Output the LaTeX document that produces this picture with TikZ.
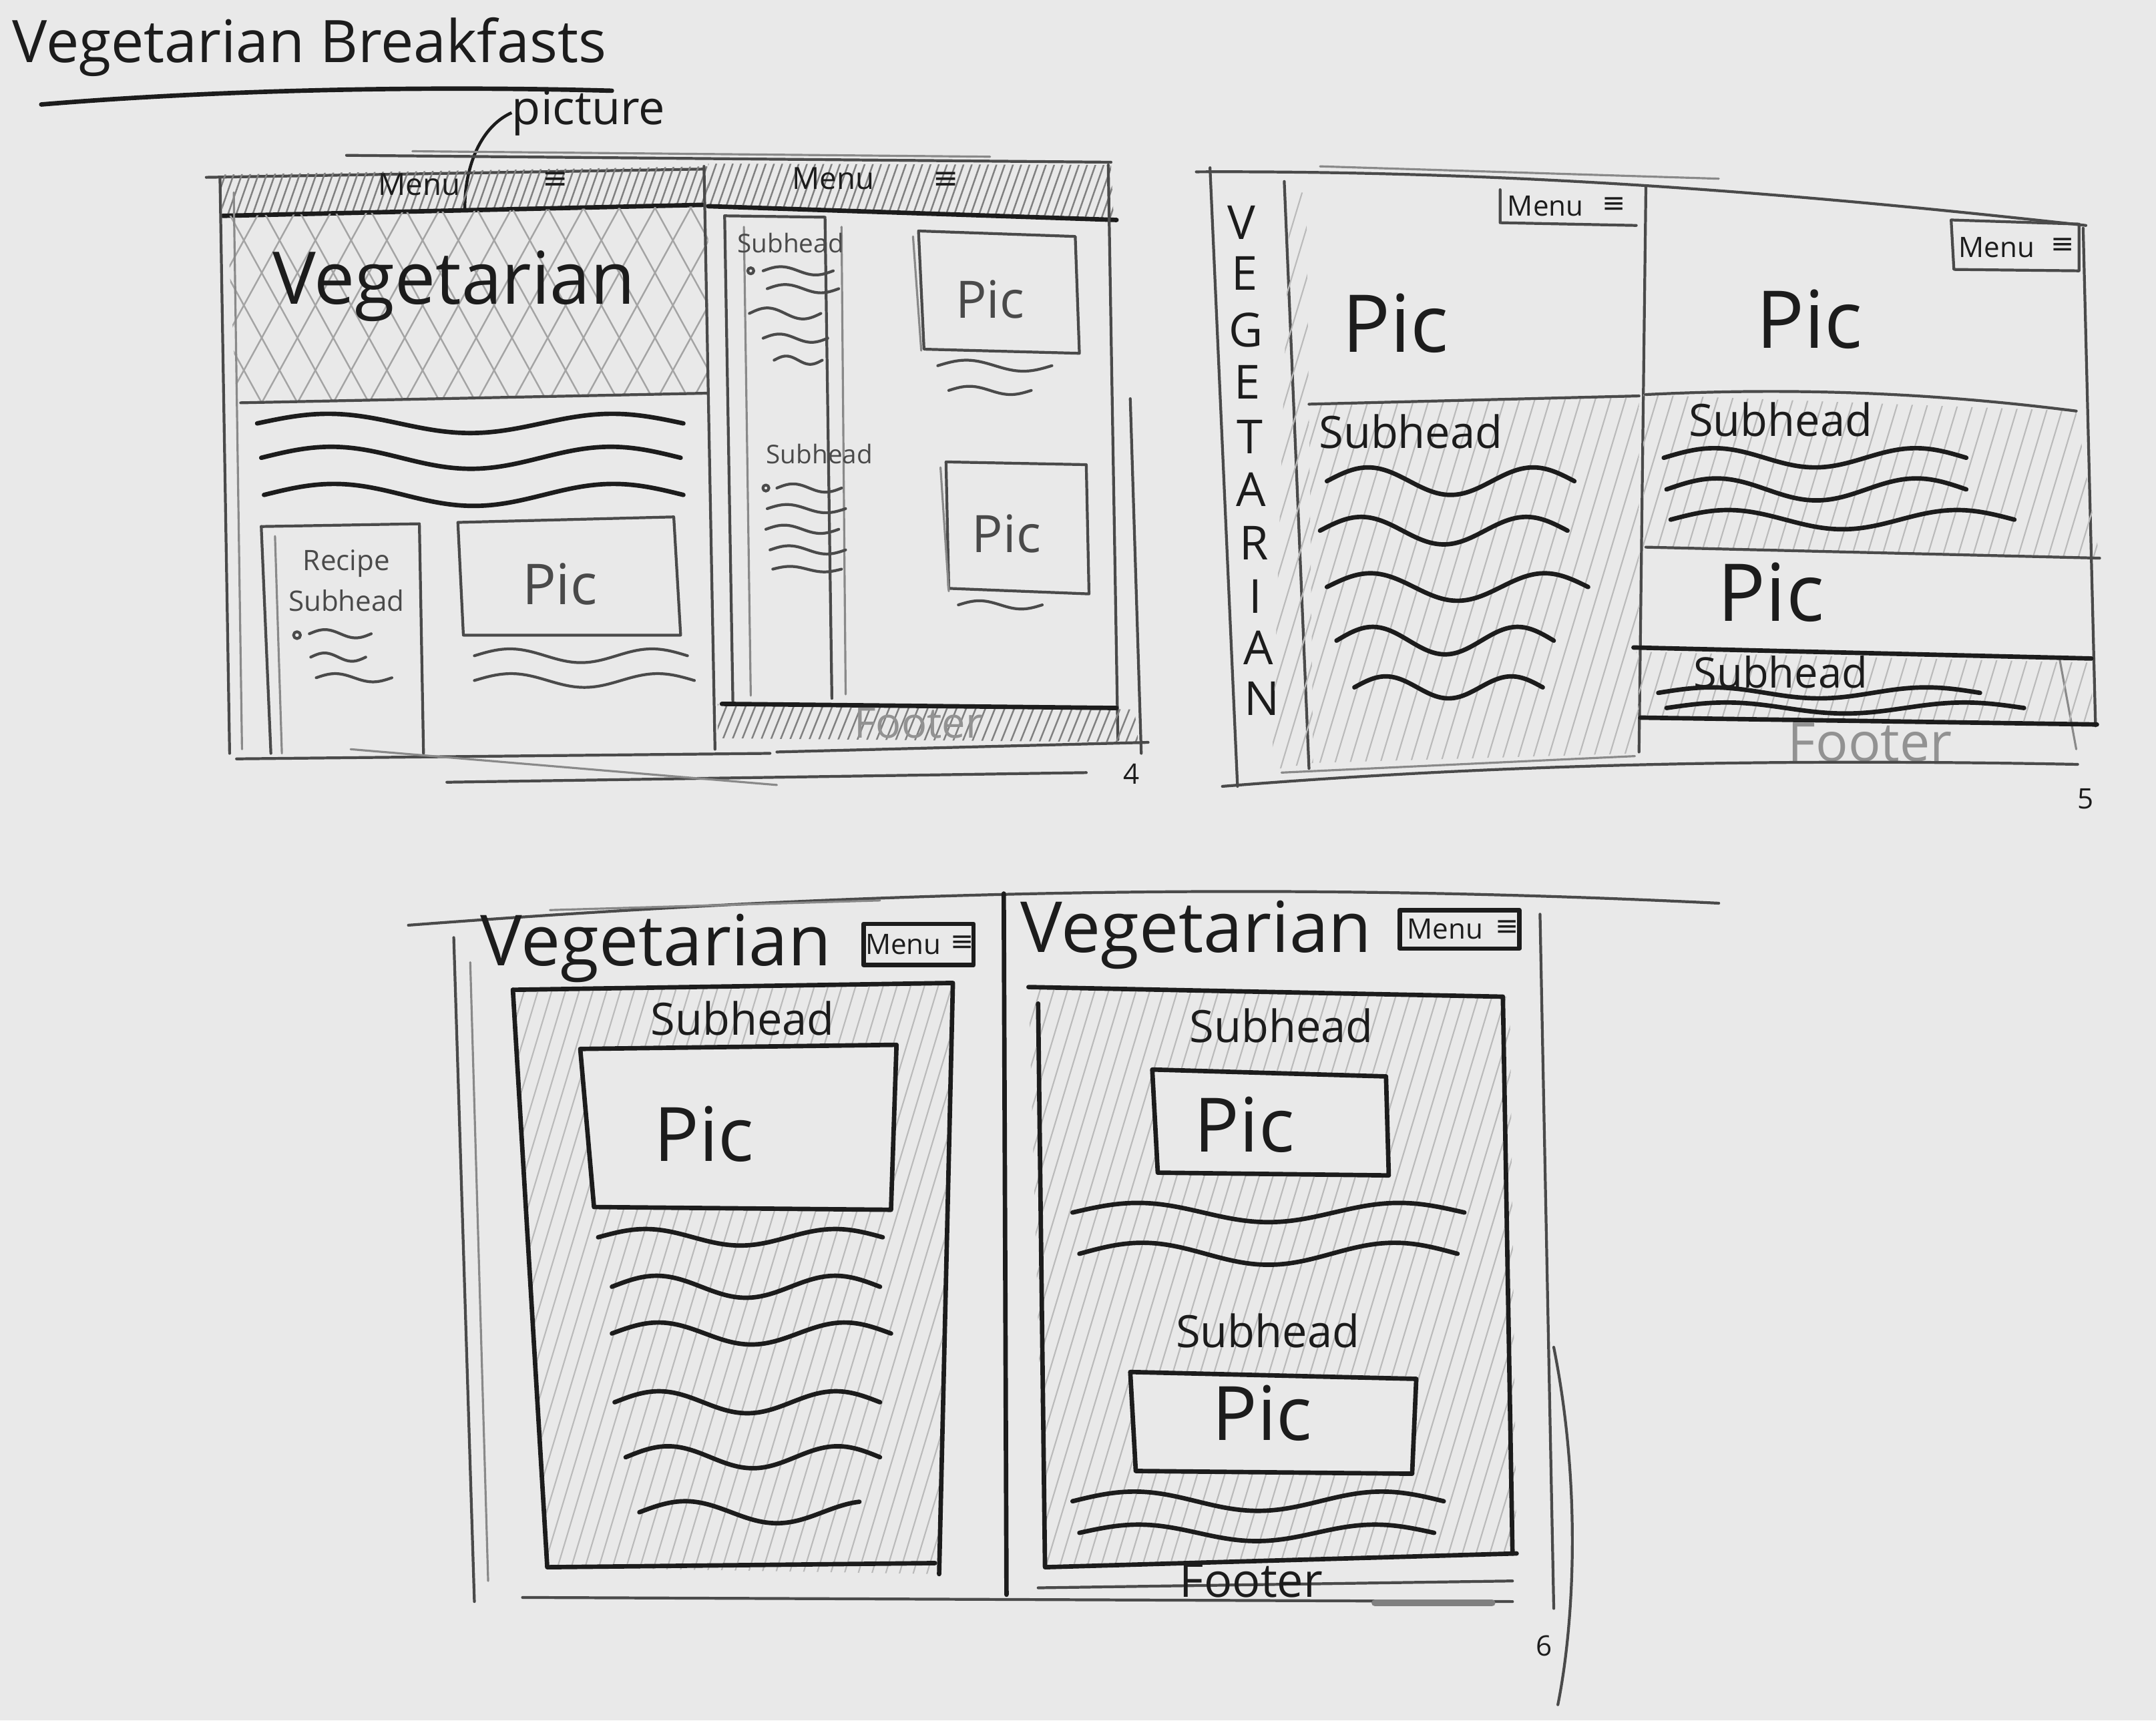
\documentclass[tikz,border=0pt]{standalone}
\usepackage{fontspec}
\setmainfont{Open Sans}
\newfontfamily\symfont{DejaVu Sans}
\definecolor{paper}{HTML}{E9E9E9}
\definecolor{ink}{HTML}{1C1C1C}
\definecolor{lead}{HTML}{4A4A4A}
\newcommand\fsz[1]{\fontsize{#1}{#1}\selectfont}

% parallel hatching inside a clip path
% #1 line style, #2 clip path, #3-#6 box x1,y1,x2,y2, #7 spacing, #8 slope (dx per dy)
\newcommand\hatch[8][hatchline]{%
  \begin{scope}
    \clip #2;
    \pgfmathsetmacro\hatchH{#6-#4}
    \pgfmathtruncatemacro\hatchN{(#5-#3+2*abs(#8)*\hatchH)/#7+1}
    \foreach \k in {0,...,\hatchN}{
      \draw[#1] ({#3-abs(#8)*\hatchH+\k*#7},#6) -- ++({#8*\hatchH},{-\hatchH});
    }
  \end{scope}}

% scribbled text line: #1 style, #2 x start, #3 x end, #4 y, #5 amplitude, #6 cycles
\newcommand\wave[6][pen]{\draw[#1] plot[domain=#2:#3,samples=60,smooth] (\x,{#4-#5*sin((\x-#2)/(#3-#2)*#6*360)});}

\begin{document}
\begin{tikzpicture}[x=0.020593cm,y=-0.020593cm,
  pen/.style={line width=1.9pt,draw=ink,line cap=round,line join=round},
  pencil/.style={line width=1.2pt,draw=lead,line cap=round,line join=round},
  faint/.style={line width=0.9pt,draw=lead!65,line cap=round},
  hatchline/.style={line width=0.6pt,draw=lead!38},
  darkhatch/.style={line width=0.7pt,draw=lead!70},
  crosshatch/.style={line width=0.7pt,draw=lead!50},
  txt/.style={inner sep=0pt,text=ink},
  soft/.style={inner sep=0pt,text=lead},
  ghost/.style={inner sep=0pt,text=lead!60}]

\fill[paper] (0,0) rectangle (1568,1251.4);
\useasboundingbox (0,0) rectangle (1568,1251.4);

% ================= page title =================
\node[txt,font=\fsz{25}] (title) at (225,34) {Vegetarian Breakfasts};
\draw[pen] (30,76) .. controls (150,66) and (300,62) .. (445,66);
\node[txt,font=\fsz{20}] (piclabel) at (428,82) {picture};
\coordinate (menuhit) at (338,152);
\draw[line width=1.3pt,draw=ink] (piclabel.west) .. controls (350,92) and (338,120) .. (menuhit);

% ================= sketch 4 =================
\draw[pencil] (252,113) -- (808,118);
\draw[faint] (300,110) -- (720,114);
\draw[pencil] (150,129) -- (512,123);
% header bands
\hatch[darkhatch]{(160,127)--(515,121)--(515,150)--(162,157)--cycle}{160}{121}{515}{157}{6}{0.35}
\hatch[darkhatch]{(515,119)--(808,120)--(810,160)--(515,150)--cycle}{515}{119}{810}{160}{6}{0.35}
\draw[pen] (162,157) -- (512,149);
\draw[pen] (515,150) -- (812,160);
\node[txt,font=\fsz{13}] (menu4a) at (305,134) {Menu};
\node[txt,font=\symfont\fsz{13}] (burger4a) at (404,131) {≡};
\node[txt,font=\fsz{13}] (menu4b) at (606,130) {Menu};
\node[txt,font=\symfont\fsz{13}] (burger4b) at (688,131) {≡};
% hero picture
\hatch[crosshatch]{(165,157)--(515,150)--(515,287)--(172,293)--cycle}{165}{150}{515}{293}{26}{0.55}
\hatch[crosshatch]{(165,157)--(515,150)--(515,287)--(172,293)--cycle}{165}{150}{515}{293}{26}{-0.55}
\node[txt,font=\fsz{31}] (veg4) at (330,208) {Vegetarian};
\draw[pencil] (175,293) -- (515,286);
\wave{187}{497}{308}{7}{1.5}
\wave{190}{495}{333}{8}{1.5}
\wave{192}{497}{360}{8}{1.5}
% left frame
\draw[pencil] (160,130) -- (167,548);
\draw[faint] (170,140) -- (176,545);
% recipe column
\draw[pencil] (190,383) -- (305,381) -- (308,548);
\draw[pencil] (190,383) -- (197,548);
\draw[faint] (200,390) -- (205,548);
\node[soft,font=\fsz{12}] (recipe4) at (252,410) {Recipe};
\node[soft,font=\fsz{12}] (sub4a) at (252,437) {Subhead};
\draw[pencil] (216,462) circle (2.5);
\wave[pencil]{225}{270}{461}{3}{1}
\wave[pencil]{226}{266}{478}{3}{1}
\wave[pencil]{230}{285}{493}{3}{1}
% picture with caption
\draw[pencil] (333,380) -- (490,376) -- (495,462) -- (337,462) -- cycle;
\node[soft,font=\fsz{24}] (pic4a) at (407,425) {Pic};
\wave[pencil]{345}{500}{477}{5}{1.5}
\wave[pencil]{345}{505}{495}{5}{1.5}
% screen divider and right frame
\draw[pencil] (512,121) -- (520,545);
\draw[pencil] (806,120) -- (813,538);
\draw[pencil] (822,290) -- (830,548);
% article column
\draw[pencil] (527,157) -- (600,158) -- (605,508);
\draw[pencil] (527,157) -- (533,510);
\draw[faint] (541,165) -- (546,506);
\draw[faint] (612,165) -- (615,505);
\node[soft,font=\fsz{11}] (sub4b) at (575,177) {Subhead};
\draw[pencil] (546,197) circle (2.2);
\wave[pencil]{555}{606}{197}{3}{1}
\wave[pencil]{558}{610}{210}{3}{1}
\wave[pencil]{545}{597}{228}{4}{1}
\wave[pencil]{555}{602}{246}{3}{1}
\wave[pencil]{563}{598}{262}{3}{1}
\node[soft,font=\fsz{11}] (sub4c) at (596,330) {Subhead}; 
\draw[pencil] (557,355) circle (2.2);
\wave[pencil]{565}{612}{355}{3}{1}
\wave[pencil]{558}{615}{370}{3}{1}
\wave[pencil]{557}{610}{385}{3}{1}
\wave[pencil]{560}{615}{400}{3}{1}
\wave[pencil]{562}{612}{414}{2}{1}
% two pictures on the right
\draw[pencil] (668,168) -- (782,172) -- (785,257) -- (672,254) -- cycle;
\draw[faint] (664,172) -- (670,255);
\node[soft,font=\fsz{22}] (pic4b) at (720,218) {Pic};
\wave[pencil]{682}{765}{266}{4}{1}
\wave[pencil]{690}{750}{284}{3}{1}
\draw[pencil] (688,336) -- (790,338) -- (792,432) -- (690,428) -- cycle;
\draw[faint] (684,340) -- (690,430);
\node[soft,font=\fsz{22}] (pic4c) at (732,388) {Pic};
\wave[pencil]{697}{758}{440}{3}{1}
% footer
\hatch[darkhatch]{(522,512)--(825,516)--(828,540)--(522,537)--cycle}{522}{512}{828}{540}{7}{0.4}
\draw[pen] (525,512) -- (812,515);
\node[ghost,font=\fsz{18}] (foot4) at (668,526) {Footer};
% bottom strokes
\draw[pencil] (172,552) -- (560,548);
\draw[pencil] (325,569) -- (790,562);
\draw[faint] (255,545) -- (565,571);
\draw[pencil] (565,547) -- (835,540);
\node[txt,font=\fsz{12}] (num4) at (823,563) {4};

% ================= sketch 5 =================
\draw[pencil] (870,125) .. controls (1100,124) and (1300,140) .. (1517,164);
\draw[faint] (960,121) -- (1250,130);
\draw[pencil] (880,122) -- (900,572);
\draw[pencil] (934,132) -- (952,559);
\draw[pencil] (1197,136) -- (1192,547);
\draw[pencil] (1515,166) -- (1524,528);
\draw[faint] (1498,480) -- (1510,545);
% vertical title
\foreach \ch/\yy/\xx [count=\i] in {V/162/903,E/199/905,G/240/906,E/278/907,T/318/909,A/356/910,R/395/912,I/434/913,A/471/915,N/508/918}{
  \node[txt,font=\fsz{20}] (v5\i) at (\xx,\yy) {\ch};
}
% first screen
\hatch{(938,140)--(950,140)--(955,555)--(925,560)--cycle}{925}{140}{955}{560}{11}{0.3}
\hatch{(952,293)--(1192,288)--(1192,548)--(955,555)--cycle}{952}{288}{1192}{555}{11}{0.3}
\draw[pencil] (1091,138) -- (1091,162) -- (1190,164);
\node[txt,font=\fsz{12}] (menu5a) at (1124,150) {Menu};
\node[txt,font=\symfont\fsz{12}] (burger5a) at (1174,149) {≡};
\node[txt,font=\fsz{34}] (pic5a) at (1015,235) {Pic};
\draw[pencil] (952,294) -- (1192,288);
\node[txt,font=\fsz{19}] (sub5a) at (1026,314) {Subhead};
\wave{965}{1145}{350}{10}{1.5}
\wave{960}{1140}{386}{10}{1.5}
\wave{965}{1155}{427}{10}{1.5}
\wave{972}{1130}{466}{10}{1.5}
\wave{985}{1122}{500}{8}{1.5}
% second screen
\hatch{(1195,287)--(1510,299)--(1527,406)--(1195,398)--cycle}{1195}{287}{1527}{406}{11}{0.3}
\hatch{(1190,474)--(1521,482)--(1522,525)--(1193,521)--cycle}{1190}{474}{1522}{525}{11}{0.3}
\draw[pencil] (1419,160) -- (1512,163) -- (1512,197) -- (1421,196) -- cycle;
\node[txt,font=\fsz{12}] (menu5b) at (1452,180) {Menu};
\node[txt,font=\symfont\fsz{12}] (burger5b) at (1500,179) {≡};
\node[txt,font=\fsz{34}] (pic5b) at (1316,232) {Pic};
\draw[pencil] (1197,287) .. controls (1300,282) and (1400,285) .. (1510,299);
\node[txt,font=\fsz{19}] (sub5b) at (1295,305) {Subhead};
\wave{1210}{1430}{333}{7}{1.5}
\wave{1212}{1430}{356}{8}{1.5}
\wave{1215}{1465}{378}{7}{1.5}
\draw[pencil] (1197,398) -- (1527,406);
\node[txt,font=\fsz{34}] (pic5c) at (1288,431) {Pic};
\draw[pen] (1188,471) -- (1521,479);
\node[txt,font=\fsz{18}] (sub5c) at (1295,489) {Subhead};
\wave{1206}{1440}{504}{4}{1.5}
\wave{1212}{1472}{515}{4}{1.5}
\draw[pen] (1193,522) -- (1525,527);
\node[ghost,font=\fsz{23}] (foot5) at (1360,540) {Footer};
\draw[pencil] (889,572) .. controls (1100,555) and (1300,552) .. (1511,556);
\draw[faint] (932,562) -- (1189,550);
\node[txt,font=\fsz{12}] (num5) at (1517,581) {5};

% ================= sketch 6 =================
\draw[pencil] (297,673) .. controls (600,650) and (900,640) .. (1250,657);
\draw[faint] (400,662) -- (640,655);
\draw[pencil] (330,682) -- (345,1165);
\draw[faint] (342,700) -- (355,1150);
\draw[pen] (730,650) -- (732,1160);
\draw[pencil] (1120,665) -- (1130,1170);
\draw[pencil] (1130,980) .. controls (1150,1080) and (1145,1180) .. (1133,1240);
% first screen
\hatch{(373,720)--(693,715)--(683,1145)--(398,1140)--cycle}{373}{715}{693}{1145}{10}{0.3}
\node[txt,font=\fsz{30}] (veg6a) at (477,690) {Vegetarian};
\draw[pen] (628,672) -- (708,672) -- (708,702) -- (628,702) -- cycle;
\node[txt,font=\fsz{12}] (menu6a) at (657,687) {Menu};
\node[txt,font=\symfont\fsz{12}] (burger6a) at (700,686) {≡};
\draw[pen] (373,720) -- (693,715) -- (683,1145);
\draw[pen] (373,720) -- (398,1140) -- (680,1137);
\node[txt,font=\fsz{19}] (sub6a) at (540,741) {Subhead};
\fill[paper] (422,763) -- (652,760) -- (648,880) -- (432,878) -- cycle;
\draw[pen] (422,763) -- (652,760) -- (648,880) -- (432,878) -- cycle;
\node[txt,font=\fsz{32}] (pic6a) at (512,825) {Pic};
\wave{435}{642}{900}{6}{1.5}
\wave{445}{640}{936}{8}{1.5}
\wave{445}{648}{970}{8}{1.5}
\wave{447}{640}{1020}{8}{1.5}
\wave{455}{640}{1060}{8}{1.5}
\wave{465}{625}{1100}{8}{1.2}
% second screen
\hatch{(748,718)--(1098,725)--(1103,1130)--(760,1140)--cycle}{748}{715}{1103}{1140}{10}{0.3}
\node[txt,font=\fsz{30}] (veg6b) at (870,680) {Vegetarian};
\draw[pen] (1018,662) -- (1105,662) -- (1105,690) -- (1018,690) -- cycle;
\node[txt,font=\fsz{12}] (menu6b) at (1051,676) {Menu};
\node[txt,font=\symfont\fsz{12}] (burger6b) at (1096,675) {≡};
\draw[pen] (748,718) -- (1093,725) -- (1100,1130);
\draw[pen] (755,730) -- (760,1140) -- (1103,1130);
\node[txt,font=\fsz{19}] (sub6b) at (932,746) {Subhead};
\fill[paper] (838,778) -- (1008,783) -- (1010,855) -- (842,853) -- cycle;
\draw[pen] (838,778) -- (1008,783) -- (1010,855) -- (842,853) -- cycle;
\node[txt,font=\fsz{32}] (pic6b) at (905,818) {Pic};
\wave{780}{1065}{882}{7}{1.5}
\wave{785}{1060}{912}{8}{1.5}
\node[txt,font=\fsz{19}] (sub6c) at (922,968) {Subhead};
\fill[paper] (822,998) -- (1030,1003) -- (1027,1072) -- (826,1070) -- cycle;
\draw[pen] (822,998) -- (1030,1003) -- (1027,1072) -- (826,1070) -- cycle;
\node[txt,font=\fsz{32}] (pic6c) at (918,1028) {Pic};
\wave{780}{1050}{1092}{7}{1.5}
\wave{785}{1043}{1115}{6}{1.5}
\draw[pencil] (755,1155) -- (1100,1150);
\node[txt,font=\fsz{20}] (foot6) at (910,1150) {Footer};
\draw[pencil] (380,1162) -- (1100,1165);
\draw[line width=3pt,draw=lead!70,line cap=round] (1000,1166) -- (1085,1166);
\node[txt,font=\fsz{12}] (num6) at (1123,1197) {6};

\end{tikzpicture}
\end{document}
